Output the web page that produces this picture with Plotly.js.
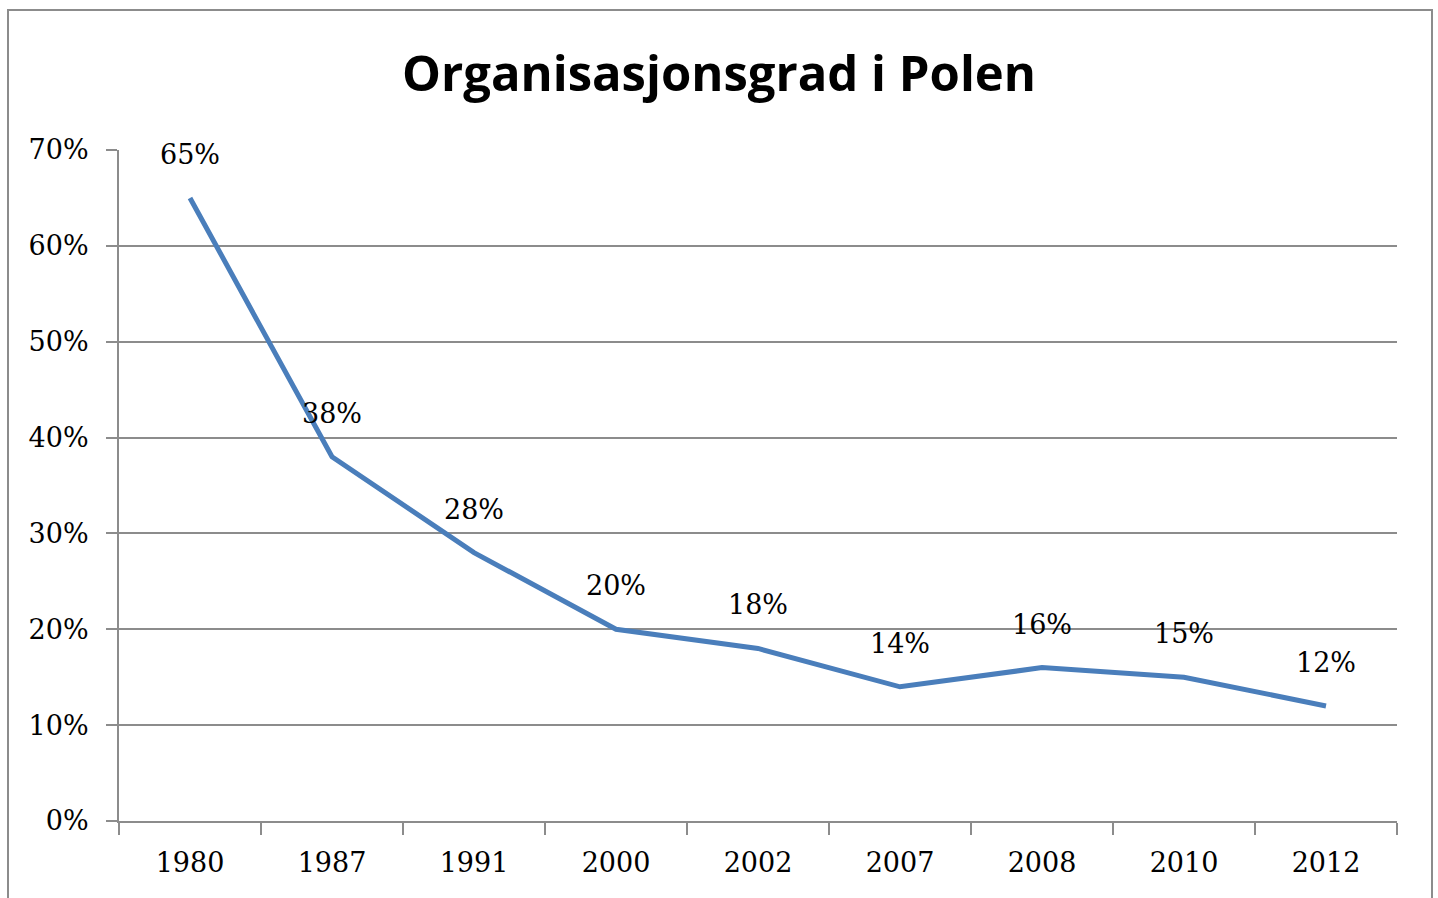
<!DOCTYPE html>
<html><head><meta charset="utf-8">
<script src="https://cdn.plot.ly/plotly-3.0.1.min.js"></script>
<style>
html,body{margin:0;padding:0;background:#fff;overflow:hidden;}
#chart{width:1438px;height:898px;}
#frame{position:absolute;left:7px;top:9px;width:1422px;height:900px;border:2px solid #8c8c8c;pointer-events:none;}
</style></head>
<body>
<div id="chart"></div>
<div id="frame"></div>
<script>
const years = ['1980','1987','1991','2000','2002','2007','2008','2010','2012'];
const rates = [0.65, 0.38, 0.28, 0.20, 0.18, 0.14, 0.16, 0.15, 0.12];
const labels = rates.map(v => Math.round(v*100) + '%');
const yTickVals = [0, 0.1, 0.2, 0.3, 0.4, 0.5, 0.6, 0.7];

const tickFont = {family: 'DejaVu Serif, serif', size: 27, color: '#000'};

Plotly.newPlot('chart', [{
  x: years, y: rates, type: 'scatter', mode: 'lines+markers+text',
  line: {color: '#4a7ebb', width: 5},
  marker: {size: 42, color: 'rgba(0,0,0,0)'},
  text: labels, textposition: 'top center',
  textfont: tickFont, hoverinfo: 'skip', cliponaxis: false
}], {
  width: 1438, height: 898,
  margin: {l: 119, r: 41, t: 150, b: 77},
  paper_bgcolor: '#fff', plot_bgcolor: '#fff',
  showlegend: false,
  title: {text: 'Organisasjonsgrad i Polen', x: 0.5, xref: 'container', xanchor: 'center', y: 0.918, yanchor: 'middle',
    font: {family: 'Open Sans, sans-serif', size: 49, color: '#000', weight: 700}},
  xaxis: {type: 'category', range: [-0.5, 8.5], showgrid: false, showline: true,
    linecolor: '#8c8c8c', linewidth: 2, ticks: 'outside', tickson: 'boundaries',
    ticklen: 12, tickwidth: 2, tickcolor: '#8c8c8c', tickfont: tickFont, ticklabelstandoff: 17,
    zeroline: false, fixedrange: true},
  yaxis: {range: [0, 0.7], tickvals: yTickVals, tickformat: '.0%', showgrid: true,
    gridcolor: '#8c8c8c', gridwidth: 2, showline: true, linecolor: '#8c8c8c', linewidth: 2,
    ticks: 'outside', ticklen: 11, tickwidth: 2, tickcolor: '#8c8c8c', tickfont: tickFont,
    ticklabelstandoff: 12, zeroline: false, fixedrange: true}
}, {staticPlot: true});
</script>
</body></html>
